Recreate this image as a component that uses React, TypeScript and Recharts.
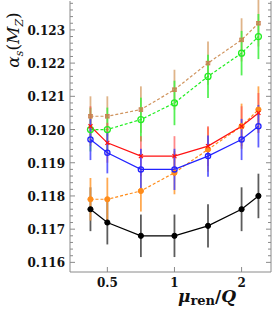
import React from "react";
import { ComposedChart, Line, XAxis, YAxis, ErrorBar } from "recharts";

// renormalisation scale ratio
const muRatio = [0.42, 0.5, 0.707, 1, 1.414, 2, 2.38];

const black = [0.1176, 0.1172, 0.1168, 0.1168, 0.1171, 0.1176, 0.118];
const blackErr = [0.00066, 0.00066, 0.00064, 0.00064, 0.00065, 0.00066, 0.00067];
const orange = [0.1179, 0.1179, 0.11815, 0.1187, 0.1194, 0.1201, 0.1206];
const orangeErr = [0.00064, 0.00065, 0.00062, 0.00065, 0.00067, 0.00068, 0.0007];
const red = [0.1201, 0.1196, 0.1192, 0.1192, 0.1195, 0.1201, 0.1205];
const redErr = [0.0006, 0.0006, 0.0006, 0.0006, 0.0006, 0.0006, 0.0006];
const blue = [0.1197, 0.1193, 0.1188, 0.1188, 0.1192, 0.1197, 0.1201];
const blueErr = [0.00062, 0.00062, 0.00062, 0.00062, 0.00062, 0.00062, 0.00064];
const green = [0.12, 0.12, 0.1203, 0.1208, 0.1216, 0.1223, 0.1228];
const greenErr = [0.00066, 0.00066, 0.00066, 0.00067, 0.00065, 0.00067, 0.00068];
const brown = [0.1204, 0.1204, 0.1206, 0.1212, 0.122, 0.1227, 0.1232];
const brownErr = [0.0006, 0.0006, 0.0007, 0.0006, 0.00065, 0.00065, 0.0007];

const xTicks = [0.5, 1, 2];
const yMajor = [0.116, 0.117, 0.118, 0.119, 0.12, 0.121, 0.122, 0.123];

const yTicks: number[] = [];
for (let i = 0; i < yMajor.length; i++) {
  for (let k = 0; k < 5; k++) yTicks.push(+(yMajor[i] + k * 0.0002).toFixed(4));
}

const data = muRatio.map((mu, i) => ({
  mu,
  black: black[i],
  blackErr: blackErr[i],
  orange: orange[i],
  orangeErr: orangeErr[i],
  red: red[i],
  redErr: redErr[i],
  blue: blue[i],
  blueErr: blueErr[i],
  green: green[i],
  greenErr: greenErr[i],
  brown: brown[i],
  brownErr: brownErr[i],
}));

const frame = "#8a8a8a";
const tickFont = { fontFamily: "DejaVu Serif", fontWeight: 700, fontSize: 12 };

const isMajor = (v: number) => Math.abs(v * 1000 - Math.round(v * 1000)) < 1e-6;

const LeftTick = ({ x, y, payload }: any) => {
  const major = isMajor(payload.value);
  return (
    <g>
      <line x1={x + 5} x2={x + 5 + (major ? 5 : 3)} y1={y} y2={y} stroke={frame} />
      {major && (
        <text x={x} y={y} dy="0.42em" textAnchor="end" fill="#111" {...tickFont}>
          {payload.value.toFixed(3)}
        </text>
      )}
    </g>
  );
};

const RightTick = ({ x, y, payload }: any) => {
  const major = isMajor(payload.value);
  return <line x1={x} x2={x - (major ? 5 : 3)} y1={y} y2={y} stroke={frame} />;
};

const BottomTick = ({ x, y, payload }: any) => (
  <g>
    <line x1={x} x2={x} y1={y - 6} y2={y - 11} stroke={frame} />
    <text x={x} y={y} dy="0.75em" textAnchor="middle" fill="#111" {...tickFont}>
      {payload.value}
    </text>
  </g>
);

const TopTick = ({ x, y }: any) => (
  <line x1={x} x2={x} y1={y} y2={y + 5} stroke={frame} />
);

const FilledDot = (color: string) => (p: any) =>
  <circle key={p.index} cx={p.cx} cy={p.cy} r={2.6} fill={color} stroke={color} />;

const OpenDot = (color: string, r: number) => (p: any) =>
  <circle key={p.index} cx={p.cx} cy={p.cy} r={r} fill="none" stroke={color} strokeWidth={1.3} />;

const CrossDot = (color: string) => (p: any) => (
  <g key={p.index} stroke={color} strokeWidth={1.2}>
    <line x1={p.cx - 2} x2={p.cx + 2} y1={p.cy - 2} y2={p.cy + 2} />
    <line x1={p.cx - 2} x2={p.cx + 2} y1={p.cy + 2} y2={p.cy - 2} />
  </g>
);

const BoxDot = (color: string) => (p: any) => (
  <g key={p.index} stroke={color} strokeWidth={0.9}>
    <rect x={p.cx - 1.8} y={p.cy - 1.8} width={3.6} height={3.6} fill={color} fillOpacity={0.4} />
    <line x1={p.cx - 1.8} x2={p.cx + 1.8} y1={p.cy - 1.8} y2={p.cy + 1.8} />
    <line x1={p.cx - 1.8} x2={p.cx + 1.8} y1={p.cy + 1.8} y2={p.cy - 1.8} />
  </g>
);

export default function App() {
  return (
    <div style={{ position: "absolute", left: 0, top: 0, width: 275, height: 315 }}>
      <ComposedChart
        width={275}
        height={315}
        data={data}
        margin={{ top: 1, right: 0, bottom: 0, left: 0 }}
      >
        <XAxis
          xAxisId="b"
          dataKey="mu"
          type="number"
          scale="log"
          domain={[0.34, 2.71]}
          allowDataOverflow
          ticks={xTicks}
          height={43}
          tickSize={0}
          tickMargin={6}
          tickLine={false}
          axisLine={{ stroke: frame }}
          tick={<BottomTick />}
        />
        <XAxis
          xAxisId="t"
          orientation="top"
          dataKey="mu"
          type="number"
          scale="log"
          domain={[0.34, 2.71]}
          allowDataOverflow
          ticks={xTicks}
          height={0}
          tickSize={0}
          tickMargin={0}
          tickLine={false}
          axisLine={{ stroke: frame }}
          tick={<TopTick />}
        />
        <YAxis
          yAxisId="l"
          type="number"
          domain={[0.11571, 0.12387]}
          allowDataOverflow
          ticks={yTicks}
          interval={0}
          width={70}
          tickSize={0}
          tickMargin={5}
          tickLine={false}
          axisLine={{ stroke: frame }}
          tick={<LeftTick />}
        />
        <YAxis
          yAxisId="r"
          orientation="right"
          type="number"
          domain={[0.11571, 0.12387]}
          allowDataOverflow
          ticks={yTicks}
          interval={0}
          width={4}
          tickSize={0}
          tickMargin={0}
          tickLine={false}
          axisLine={{ stroke: frame }}
          tick={<RightTick />}
        />

        <Line xAxisId="b" yAxisId="l" dataKey="black" stroke="#000" strokeWidth={1.2}
          dot={FilledDot("#000")} isAnimationActive={false}>
          <ErrorBar dataKey="blackErr" width={0} stroke="#333" strokeOpacity={0.8} strokeWidth={1.8} direction="y" />
        </Line>
        <Line xAxisId="b" yAxisId="l" dataKey="orange" stroke="#ff8c1a" strokeWidth={1.2}
          strokeDasharray="3 2" dot={FilledDot("#ff8c1a")} isAnimationActive={false}>
          <ErrorBar dataKey="orangeErr" width={0} stroke="#ff9a33" strokeOpacity={0.85} strokeWidth={1.8} direction="y" />
        </Line>
        <Line xAxisId="b" yAxisId="l" dataKey="brown" stroke="#d0945e" strokeWidth={1.2}
          strokeDasharray="3 2" dot={BoxDot("#c98050")} isAnimationActive={false}>
          <ErrorBar dataKey="brownErr" width={0} stroke="#dcac7c" strokeOpacity={0.9} strokeWidth={1.8} direction="y" />
        </Line>
        <Line xAxisId="b" yAxisId="l" dataKey="green" stroke="#22ee22" strokeWidth={1.2}
          strokeDasharray="3 2" dot={OpenDot("#22ee22", 3)} isAnimationActive={false}>
          <ErrorBar dataKey="greenErr" width={0} stroke="#44ee44" strokeOpacity={0.9} strokeWidth={1.8} direction="y" />
        </Line>
        <Line xAxisId="b" yAxisId="l" dataKey="red" stroke="#ff1111" strokeWidth={1.2}
          dot={CrossDot("#ff1111")} isAnimationActive={false}>
          <ErrorBar dataKey="redErr" width={0} stroke="#ff5555" strokeOpacity={0.7} strokeWidth={1.8} direction="y" />
        </Line>
        <Line xAxisId="b" yAxisId="l" dataKey="blue" stroke="#2222ff" strokeWidth={1.2}
          dot={OpenDot("#2222ff", 2.6)} isAnimationActive={false}>
          <ErrorBar dataKey="blueErr" width={0} stroke="#4444ff" strokeOpacity={0.85} strokeWidth={1.8} direction="y" />
        </Line>
      </ComposedChart>

      <svg
        width={275}
        height={315}
        style={{ position: "absolute", left: 0, top: 0, pointerEvents: "none" }}
      >
        <text
          transform="translate(19,40) rotate(-90)"
          textAnchor="middle"
          fontFamily="DejaVu Serif"
          fontSize={17}
          fontStyle="italic"
          fill="#111"
        >
          α<tspan fontSize={11} dy={4}>s</tspan>
          <tspan fontStyle="normal" dy={-4}>(</tspan>M
          <tspan fontSize={11} dy={4}>Z</tspan>
          <tspan fontStyle="normal" dy={-4}>)</tspan>
        </text>
        <text
          x={207}
          y={302}
          textAnchor="middle"
          fontFamily="DejaVu Serif"
          fontWeight={700}
          fontSize={17}
          fill="#111"
        >
          <tspan fontStyle="italic">μ</tspan>
          <tspan fontSize={13} dy={3}>ren</tspan>
          <tspan dy={-3}>/</tspan>
          <tspan fontStyle="italic">Q</tspan>
        </text>
      </svg>
    </div>
  );
}
